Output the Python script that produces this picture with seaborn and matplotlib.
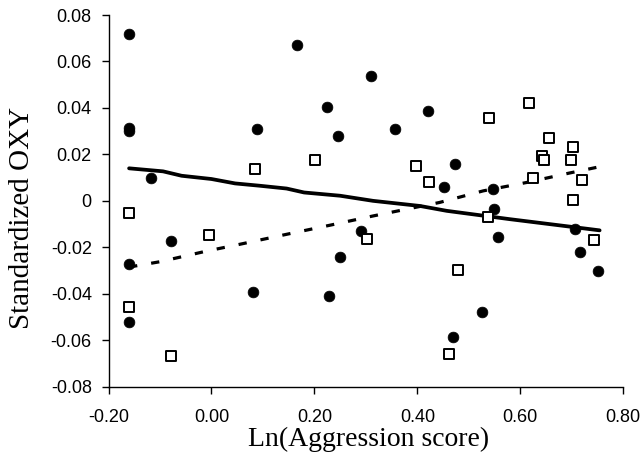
import matplotlib
matplotlib.use("Agg")
import matplotlib.pyplot as plt
import seaborn as sns
import pandas as pd

# Filled circles
circle_x = [-0.160, -0.160, -0.160, -0.1175, 0.0877, 0.1654, 0.225, 0.246, 0.3097, 0.3563,
            0.4198, 0.4728, 0.4515, 0.5466, 0.549, 0.557, -0.0786, -0.160, 0.080, 0.2288,
            0.2495, 0.290, -0.160, 0.5252, 0.469, 0.7058, 0.716, 0.751]
circle_y = [0.0718, 0.0312, 0.0302, 0.0097, 0.0310, 0.0672, 0.0404, 0.0278, 0.0536, 0.0308,
            0.0388, 0.0160, 0.0058, 0.0050, -0.0036, -0.0154, -0.0173, -0.0272, -0.0392, -0.0408,
            -0.0240, -0.0130, -0.0522, -0.0479, -0.0588, -0.0122, -0.0219, -0.0303]

# Open squares
square_x = [0.0845, 0.201, 0.5394, 0.617, 0.656, 0.7025, 0.6423, 0.6456, 0.6986, 0.398,
            0.4223, 0.625, 0.720, 0.7025, -0.160, -0.0043, -0.160, -0.0786, 0.5363, 0.3026,
            0.4793, 0.4618, 0.744]
square_y = [0.0137, 0.0176, 0.0356, 0.0420, 0.0271, 0.0231, 0.0193, 0.0176, 0.0176, 0.0151,
            0.0079, 0.0097, 0.0090, 0.0005, -0.0053, -0.0147, -0.0456, -0.0667, -0.0068, -0.0163,
            -0.0297, -0.0660, -0.0170]

# Solid trend line
solid_x = [-0.16, -0.094, -0.058, 0.0, 0.046, 0.094, 0.146, 0.18, 0.25, 0.314, 0.405, 0.457, 0.58, 0.70, 0.754]
solid_y = [0.0140, 0.0127, 0.0108, 0.0094, 0.0075, 0.0065, 0.0053, 0.0036, 0.0022, 0.0000,
           -0.0022, -0.0043, -0.0079, -0.0112, -0.0127]

# Dashed trend line
dashed_x = [-0.16, -0.10, -0.009, 0.055, 0.146, 0.23, 0.314, 0.443, 0.528, 0.612, 0.696, 0.75]
dashed_y = [-0.0285, -0.0262, -0.0216, -0.0187, -0.0144, -0.0105, -0.0065, -0.0007, 0.0043,
            0.0079, 0.0120, 0.0145]

x_ticks = [-0.20, 0.00, 0.20, 0.40, 0.60, 0.80]
x_tick_labels = ["-0.20", "0.00", "0.20", "0.40", "0.60", "0.80"]
y_ticks = [0.08, 0.06, 0.04, 0.02, 0.0, -0.02, -0.04, -0.06, -0.08]
y_tick_labels = ["0.08", "0.06", "0.04", "0.02", "0", "-0.02", "-0.04", "-0.06", "-0.08"]

x_label = "Ln(Aggression score)"
y_label = "Standardized OXY"

sns.set_style("white")
plt.rcParams["axes.unicode_minus"] = False
plt.rcParams["font.family"] = ["Liberation Sans", "DejaVu Sans"]

fig = plt.figure(figsize=(6.43, 4.66), dpi=100)
ax = fig.add_axes([108.5 / 643, 1 - 386.7 / 466, (623.3 - 108.5) / 643, (386.7 - 15) / 466])

df_c = pd.DataFrame({"x": circle_x, "y": circle_y})
df_s = pd.DataFrame({"x": square_x, "y": square_y})
df_l1 = pd.DataFrame({"x": solid_x, "y": solid_y})
df_l2 = pd.DataFrame({"x": dashed_x, "y": dashed_y})

sns.lineplot(data=df_l1, x="x", y="y", sort=False, color="black", linewidth=2.7, ax=ax, zorder=2)
sns.lineplot(data=df_l2, x="x", y="y", sort=False, color="black", linewidth=2.3,
             dashes=False, ax=ax, zorder=2)
ax.lines[-1].set_dashes([2.6, 4.4])
ax.lines[-1].set_dash_capstyle("butt")

sns.scatterplot(data=df_c, x="x", y="y", marker="o", s=60, color="black",
                edgecolor="black", linewidth=0.5, ax=ax, zorder=3)
sns.scatterplot(data=df_s, x="x", y="y", marker="s", s=42, facecolor="white",
                edgecolor="black", linewidth=1.4, ax=ax, zorder=3)

ax.set_xlim(-0.20, 0.80)
ax.set_ylim(-0.08, 0.08)
ax.set_xticks(x_ticks)
ax.set_xticklabels(x_tick_labels)
ax.set_yticks(y_ticks)
ax.set_yticklabels(y_tick_labels)

for side in ["top", "right"]:
    ax.spines[side].set_visible(False)
for side in ["left", "bottom"]:
    ax.spines[side].set_color("black")
    ax.spines[side].set_linewidth(1.0)

ax.tick_params(axis="both", direction="out", length=5, width=1.0, color="black",
               labelsize=13, labelcolor="black", bottom=True, left=True)
ax.tick_params(axis="x", pad=11)
ax.tick_params(axis="y", pad=7)

ax.set_xlabel(x_label, fontsize=20, family=["Liberation Serif", "DejaVu Serif"], color="black")
ax.set_ylabel(y_label, fontsize=21, family=["Liberation Serif", "DejaVu Serif"], color="black")
ax.xaxis.set_label_coords(0.505, -0.108)
ax.yaxis.set_label_coords(-0.143, 0.454)
ax.grid(False)

fig.savefig("out.png", dpi=100)
